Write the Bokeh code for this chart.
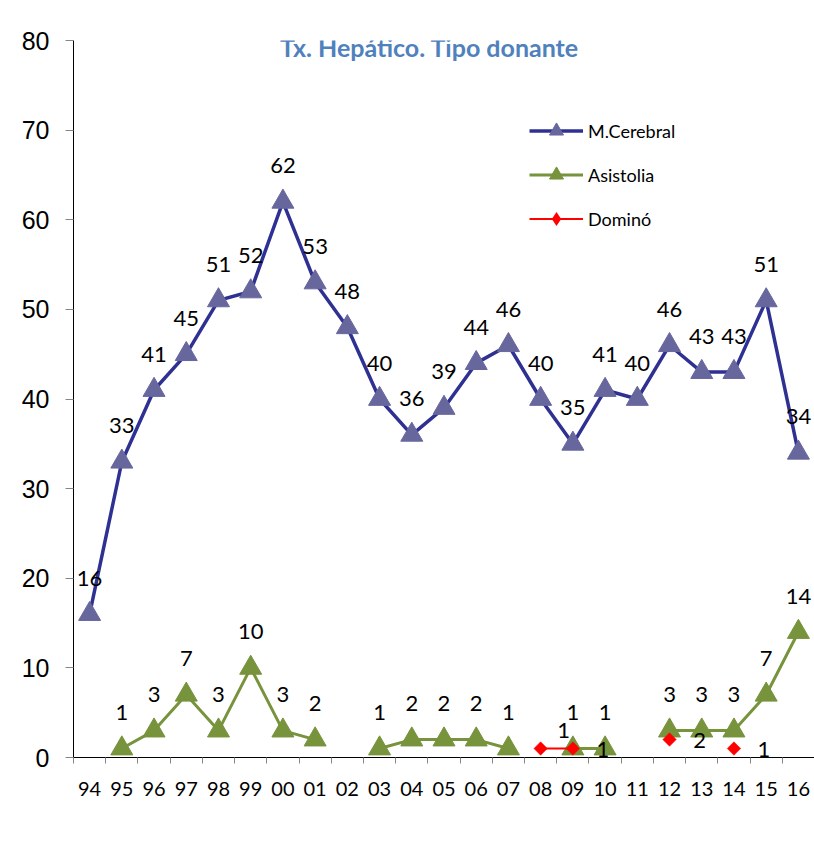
import math
from bokeh.plotting import figure
from bokeh.models import (ColumnDataSource, Range1d, FixedTicker, LinearAxis,
                          Legend, LegendItem, Label, BoxAnnotation)
from bokeh.core.properties import value
from bokeh.embed import file_html
from bokeh.resources import INLINE

# ---------------- data ----------------
years = ["94", "95", "96", "97", "98", "99", "00", "01", "02", "03", "04", "05",
         "06", "07", "08", "09", "10", "11", "12", "13", "14", "15", "16"]
m_cerebral = [16, 33, 41, 45, 51, 52, 62, 53, 48, 40, 36, 39, 44, 46, 40, 35,
              41, 40, 46, 43, 43, 51, 34]
asistolia = [None, 1, 3, 7, 3, 10, 3, 2, None, 1, 2, 2, 2, 1, None, 1,
             1, None, 3, 3, 3, 7, 14]
domino = [None, None, None, None, None, None, None, None, None, None, None, None,
          None, None, 1, 1, None, None, 2, None, 1, None, None]
y_ticks = [0, 10, 20, 30, 40, 50, 60, 70, 80]

# ---------------- styles ----------------
BLUE_LINE = "#2E3192"
BLUE_MARK = "#67679D"
GREEN = "#77933C"
RED = "#FF0000"
TITLE_BLUE = "#4F81BD"
GRAY_TICK = "#868686"
BORDER = "#c8a6cf"
LABEL_FONT = "Lato"
W, H = 806, 839

idx = list(range(len(years)))


def line_source(vals):
    ys = [float("nan") if v is None else v for v in vals]
    return ColumnDataSource(dict(x=idx, y=ys))


def label_source(vals, dx=0, dy=-36, nudges=None):
    nudges = nudges or {}
    xs, ys, txt, dxs, dys = [], [], [], [], []
    for i, v in enumerate(vals):
        if v is None:
            continue
        xs.append(i)
        ys.append(v)
        txt.append(str(v))
        ndx, ndy = nudges.get(years[i], (0, 0))
        dxs.append(dx + ndx)
        dys.append(dy + ndy)
    return ColumnDataSource(dict(x=xs, y=ys, text=txt, dx=dxs, dy=dys))


p = figure(width=W, height=H,
           x_range=Range1d(-0.5, len(years) - 0.5),
           y_range=Range1d(y_ticks[0], y_ticks[-1]),
           output_backend="svg", toolbar_location=None,
           x_axis_type=None, y_axis_type=None,
           min_border_left=65, min_border_right=0,
           min_border_top=33, min_border_bottom=89)
p.outline_line_color = None
p.xgrid.visible = False
p.ygrid.visible = False
p.background_fill_color = "white"
p.border_fill_color = "white"
p.styles = {"margin-left": "8px", "margin-top": "7px"}

# chart-area border (left and top edges, as in the cropped original)
for l, r, t, b in ((0, 1, 0, H), (0, W, 0, 1)):
    p.add_layout(BoxAnnotation(left=l, right=r, top=t, bottom=b,
                               left_units="canvas", right_units="canvas",
                               top_units="canvas", bottom_units="canvas",
                               fill_color=BORDER, fill_alpha=1, line_color=None))

# axes
xaxis = LinearAxis(
    ticker=FixedTicker(ticks=idx, minor_ticks=[i - 0.5 for i in range(len(years) + 1)]),
    major_label_overrides={i: y for i, y in enumerate(years)},
)
xaxis.axis_line_color = "black"
xaxis.axis_line_width = 1
xaxis.major_tick_line_color = None
xaxis.minor_tick_line_color = GRAY_TICK
xaxis.minor_tick_out = 6
xaxis.minor_tick_in = 0
xaxis.major_label_text_font = LABEL_FONT
xaxis.major_label_text_font_size = "20px"
xaxis.major_label_text_color = "black"
xaxis.major_label_standoff = 18
p.add_layout(xaxis, "below")

yaxis = LinearAxis(ticker=FixedTicker(ticks=y_ticks))
yaxis.axis_line_color = "black"
yaxis.major_tick_line_color = GRAY_TICK
yaxis.major_tick_out = 8
yaxis.major_tick_in = 0
yaxis.minor_tick_line_color = None
yaxis.major_label_text_font = "Liberation Sans"
yaxis.major_label_text_font_size = "25px"
yaxis.major_label_text_color = "black"
yaxis.major_label_standoff = 16
p.add_layout(yaxis, "left")

# series
src_m = line_source(m_cerebral)
src_a = line_source(asistolia)
src_d = line_source(domino)

l_m = p.line("x", "y", source=src_m, line_color=BLUE_LINE, line_width=3.5)
s_m = p.scatter("x", "y", source=src_m, marker="triangle", size=22,
                fill_color=BLUE_MARK, line_color=BLUE_MARK, line_width=1)

l_a = p.line("x", "y", source=src_a, line_color=GREEN, line_width=3)
s_a = p.scatter("x", "y", source=src_a, marker="triangle", size=22,
                fill_color=GREEN, line_color=GREEN, line_width=1)

l_d = p.line("x", "y", source=src_d, line_color=RED, line_width=2)
s_d = p.scatter("x", "y", source=src_d, marker="square", angle=math.pi / 4, size=9.5,
                fill_color=RED, line_color=RED, line_width=0.5)
# legend proxy (diamond shape in legend only)
s_d_leg = p.scatter("x", "y", source=src_d, marker="diamond", size=0,
                    fill_color=RED, line_color=None)

# data labels
for src in (label_source(m_cerebral), label_source(asistolia),
            label_source(domino, dx=30, dy=1, nudges={"08": (-7, -19)})):
    p.text("x", "y", text="text", source=src, x_offset="dx", y_offset="dy",
           text_align="center", text_baseline="middle",
           text_font=value(LABEL_FONT), text_font_size="22px", text_color="black")

# legend
legend = Legend(items=[
    LegendItem(label="M.Cerebral", renderers=[l_m, s_m]),
    LegendItem(label="Asistolia", renderers=[l_a, s_a]),
    LegendItem(label="Dominó", renderers=[l_d, s_d_leg]),
], location=(456, 521))
legend.glyph_width = 54
legend.glyph_height = 35
legend.label_height = 20
legend.spacing = 9
legend.padding = 0
legend.margin = 0
legend.label_standoff = 5
legend.border_line_color = None
legend.background_fill_alpha = 0
legend.label_text_font = LABEL_FONT
legend.label_text_font_size = "18px"
legend.label_text_color = "black"
p.add_layout(legend, "center")

# title
title = Label(x=356, y=711, x_units="screen", y_units="screen",
              text="Tx. Hepático. Tipo donante", text_align="center",
              text_baseline="middle", text_font=LABEL_FONT, text_font_style="bold",
              text_font_size="25px", text_color=TITLE_BLUE)
p.add_layout(title)

open("out.html", "w").write(file_html(p, INLINE))
